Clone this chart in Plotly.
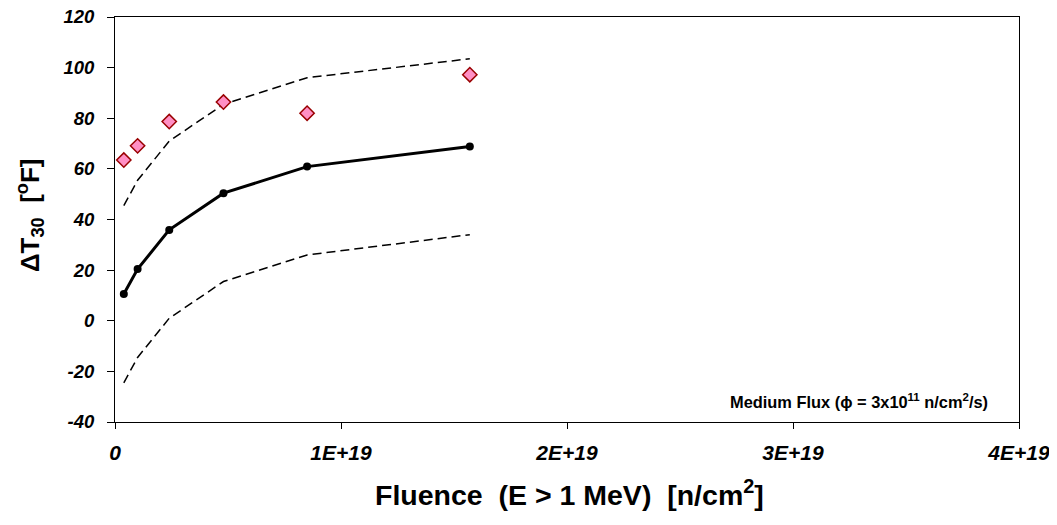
import plotly.graph_objects as go

# Data
fluence = [3.9e17, 1.0e18, 2.4e18, 4.8e18, 8.5e18, 1.57e19]
mean_dt30 = [10.6, 20.4, 35.9, 50.4, 60.9, 68.8]
upper_dt30 = [45.5, 55.5, 71.0, 85.5, 96.0, 103.5]
lower_dt30 = [-24.5, -14.5, 1.0, 15.5, 26.0, 34.0]
measured_dt30 = [63.5, 69.1, 78.7, 86.4, 82.0, 97.2]

x_tickvals = [0, 1e19, 2e19, 3e19, 4e19]
x_ticktext = ["0", "1E+19", "2E+19", "3E+19", "4E+19"]
y_tickvals = [-40, -20, 0, 20, 40, 60, 80, 100, 120]
y_ticktext = ["-40", "-20", "0", "20", "40", "60", "80", "100", "120"]

FONT = "Arial, Liberation Sans, sans-serif"
NB = "\u00a0"

fig = go.Figure()
fig.add_trace(go.Scatter(x=fluence, y=upper_dt30, mode="lines",
                         line=dict(color="black", width=1.5, dash="9px,5px"),
                         showlegend=False, hoverinfo="skip"))
fig.add_trace(go.Scatter(x=fluence, y=lower_dt30, mode="lines",
                         line=dict(color="black", width=1.5, dash="9px,5px"),
                         showlegend=False, hoverinfo="skip"))
fig.add_trace(go.Scatter(x=fluence, y=mean_dt30, mode="lines+markers",
                         line=dict(color="black", width=3),
                         marker=dict(symbol="circle", size=8, color="black"),
                         showlegend=False))
fig.add_trace(go.Scatter(x=fluence, y=measured_dt30, mode="markers",
                         marker=dict(symbol="diamond", size=11, color="#FF8FC4",
                                     line=dict(color="#990000", width=1.5)),
                         showlegend=False))

# page body is offset by 8px; plot area lands at x 115..1019, y 17..422 of the window
fig.update_layout(
    width=1057, height=525,
    margin=dict(l=107, r=46, t=9, b=111),
    plot_bgcolor="white", paper_bgcolor="white",
    font=dict(family=FONT, color="black"),
    xaxis=dict(range=[0, 4e19], tickvals=x_tickvals, ticktext=x_ticktext,
               ticks="outside", ticklen=6, tickcolor="black",
               showline=True, linecolor="black", linewidth=1, mirror=True,
               showgrid=False, zeroline=False, automargin=False,
               ticklabeloverflow="allow", ticklabelstandoff=6,
               tickfont=dict(family=FONT, size=21, weight="bold", style="italic")),
    yaxis=dict(range=[-40, 120], tickvals=y_tickvals, ticktext=y_ticktext,
               ticks="outside", ticklen=7, tickcolor="black",
               showline=True, linecolor="black", linewidth=1, mirror=True,
               showgrid=False, zeroline=False, automargin=False,
               ticklabeloverflow="allow", ticklabelstandoff=9,
               tickfont=dict(family=FONT, size=18.5, weight="bold", style="italic")),
    annotations=[
        dict(text="Medium Flux (ϕ = 3x10<sup>11</sup> n/cm<sup>2</sup>/s)",
             xref="paper", yref="paper", x=0.968, y=0.052,
             xanchor="right", yanchor="middle", showarrow=False,
             font=dict(family=FONT, size=16.4, weight="bold")),
        dict(text=f"Fluence{NB}{NB}(E > 1 MeV){NB}{NB}[n/cm<sup>2</sup>]",
             xref="paper", yref="paper", x=0.503, y=-0.175,
             xanchor="center", yanchor="middle", showarrow=False,
             font=dict(family=FONT, size=28.5, weight="bold")),
        dict(text=f"ΔT<sub>30</sub>{NB}{NB}[<sup>o</sup>F]",
             xref="paper", yref="paper", x=-0.094, y=0.511,
             xanchor="center", yanchor="middle", showarrow=False, textangle=-90,
             font=dict(family=FONT, size=26, weight="bold")),
    ],
)

fig.write_html("out.html")
